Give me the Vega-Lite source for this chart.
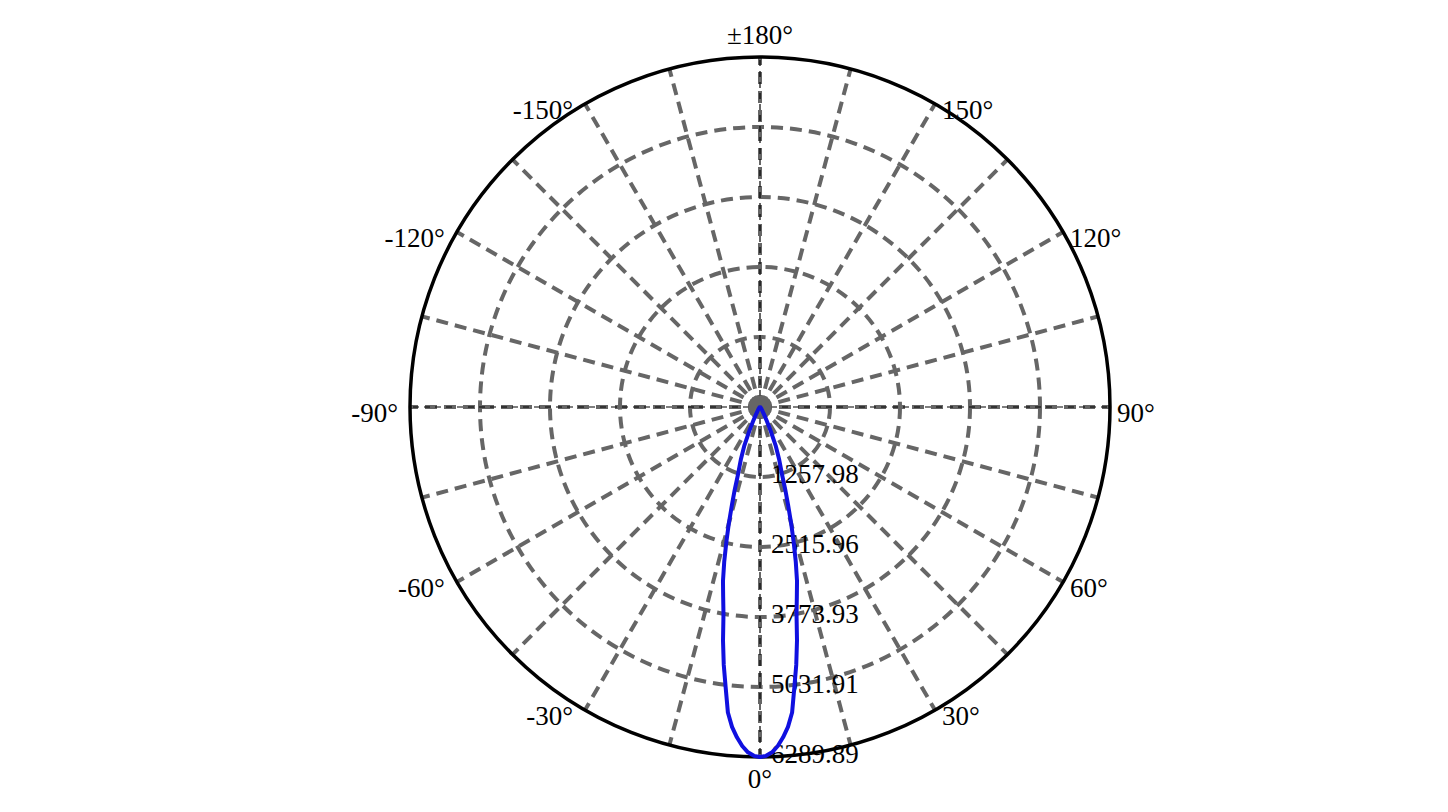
{
  "$schema": "https://vega.github.io/schema/vega-lite/v6.json",
  "width": 700,
  "height": 700,
  "autosize": {"type": "none"},
  "padding": {"left": 410, "top": 57, "right": 338, "bottom": 55},
  "background": "white",
  "config": {"view": {"stroke": null}, "text": {"font": "Liberation Serif", "fontSize": 27, "color": "black"}},
  "datasets": {
    "spokes": [
      {"angle": -165}, {"angle": -150}, {"angle": -135}, {"angle": -120}, {"angle": -105}, {"angle": -90},
      {"angle": -75}, {"angle": -60}, {"angle": -45}, {"angle": -30}, {"angle": -15}, {"angle": 0},
      {"angle": 15}, {"angle": 30}, {"angle": 45}, {"angle": 60}, {"angle": 75}, {"angle": 90},
      {"angle": 105}, {"angle": 120}, {"angle": 135}, {"angle": 150}, {"angle": 165}, {"angle": 180}
    ],
    "rings": [
      {"r": 1257.98, "label": "1257.98"},
      {"r": 2515.96, "label": "2515.96"},
      {"r": 3773.93, "label": "3773.93"},
      {"r": 5031.91, "label": "5031.91"},
      {"r": 6289.89, "label": "6289.89"}
    ],
    "angleLabels": [
      {"angle": 0, "label": "0°"},
      {"angle": 30, "label": "30°"},
      {"angle": 60, "label": "60°"},
      {"angle": 90, "label": "90°"},
      {"angle": 120, "label": "120°"},
      {"angle": 150, "label": "150°"},
      {"angle": 180, "label": "±180°"},
      {"angle": -150, "label": "-150°"},
      {"angle": -120, "label": "-120°"},
      {"angle": -90, "label": "-90°"},
      {"angle": -60, "label": "-60°"},
      {"angle": -30, "label": "-30°"}
    ],
    "curve": [
      {"angle": -90, "cd": 0}, {"angle": -80, "cd": 2}, {"angle": -70, "cd": 4}, {"angle": -60, "cd": 8},
      {"angle": -50, "cd": 15}, {"angle": -40, "cd": 30}, {"angle": -35, "cd": 55}, {"angle": -30, "cd": 110},
      {"angle": -28, "cd": 170}, {"angle": -26, "cd": 280}, {"angle": -24, "cd": 470}, {"angle": -22, "cd": 760},
      {"angle": -20, "cd": 1010}, {"angle": -18, "cd": 1290}, {"angle": -17, "cd": 1550}, {"angle": -16, "cd": 1830},
      {"angle": -15, "cd": 2160}, {"angle": -14, "cd": 2500}, {"angle": -13, "cd": 2860}, {"angle": -12, "cd": 3200},
      {"angle": -11, "cd": 3470}, {"angle": -10, "cd": 3780}, {"angle": -9, "cd": 4250}, {"angle": -8, "cd": 4680},
      {"angle": -7, "cd": 5070}, {"angle": -6, "cd": 5520}, {"angle": -5, "cd": 5770}, {"angle": -4, "cd": 5950},
      {"angle": -3, "cd": 6100}, {"angle": -2, "cd": 6210}, {"angle": -1, "cd": 6270}, {"angle": 0, "cd": 6289.89},
      {"angle": 1, "cd": 6270}, {"angle": 2, "cd": 6210}, {"angle": 3, "cd": 6100}, {"angle": 4, "cd": 5950},
      {"angle": 5, "cd": 5770}, {"angle": 6, "cd": 5520}, {"angle": 7, "cd": 5070}, {"angle": 8, "cd": 4680},
      {"angle": 9, "cd": 4250}, {"angle": 10, "cd": 3780}, {"angle": 11, "cd": 3470}, {"angle": 12, "cd": 3200},
      {"angle": 13, "cd": 2860}, {"angle": 14, "cd": 2500}, {"angle": 15, "cd": 2160}, {"angle": 16, "cd": 1830},
      {"angle": 17, "cd": 1550}, {"angle": 18, "cd": 1290}, {"angle": 20, "cd": 1010}, {"angle": 22, "cd": 760},
      {"angle": 24, "cd": 470}, {"angle": 26, "cd": 280}, {"angle": 28, "cd": 170}, {"angle": 30, "cd": 110},
      {"angle": 35, "cd": 55}, {"angle": 40, "cd": 30}, {"angle": 50, "cd": 15}, {"angle": 60, "cd": 8},
      {"angle": 70, "cd": 4}, {"angle": 80, "cd": 2}, {"angle": 90, "cd": 0}
    ]
  },
  "layer": [
    {
      "data": {"name": "spokes"},
      "transform": [
        {"calculate": "6289.89 * sin(datum.angle * PI / 180)", "as": "px"},
        {"calculate": "-6289.89 * cos(datum.angle * PI / 180)", "as": "py"},
        {"calculate": "0", "as": "o"}
      ],
      "mark": {"type": "rule", "color": "#666666", "strokeWidth": 4, "strokeDash": [12, 7]},
      "encoding": {
        "x": {"field": "o", "type": "quantitative", "scale": {"domain": [-6289.89, 6289.89], "nice": false, "zero": false}, "axis": null},
        "y": {"field": "o", "type": "quantitative", "scale": {"domain": [-6289.89, 6289.89], "nice": false, "zero": false}, "axis": null},
        "x2": {"field": "px"},
        "y2": {"field": "py"}
      }
    },
    {
      "data": {"name": "rings"},
      "transform": [{"filter": "datum.r < 6000"}, {"calculate": "0", "as": "o"}],
      "mark": {"type": "point", "shape": "circle", "filled": false, "opacity": 1, "color": "#666666", "strokeWidth": 4, "strokeDash": [12, 7]},
      "encoding": {
        "x": {"field": "o", "type": "quantitative"},
        "y": {"field": "o", "type": "quantitative"},
        "size": {"field": "r", "type": "quantitative", "legend": null, "scale": {"type": "pow", "exponent": 2, "domain": [0, 6289.89], "range": [0, 490000], "zero": true}}
      }
    },
    {
      "data": {"name": "spokes"},
      "transform": [
        {"filter": "datum.angle % 90 == 0"},
        {"calculate": "6289.89 * sin(datum.angle * PI / 180)", "as": "px"},
        {"calculate": "-6289.89 * cos(datum.angle * PI / 180)", "as": "py"},
        {"calculate": "0", "as": "o"}
      ],
      "mark": {"type": "rule", "color": "black", "strokeWidth": 1.2, "strokeDash": [6, 5]},
      "encoding": {
        "x": {"field": "o", "type": "quantitative"},
        "y": {"field": "o", "type": "quantitative"},
        "x2": {"field": "px"},
        "y2": {"field": "py"}
      }
    },
    {
      "data": {"name": "rings"},
      "transform": [{"filter": "datum.r > 6000"}, {"calculate": "0", "as": "o"}],
      "mark": {"type": "point", "shape": "circle", "filled": false, "opacity": 1, "color": "black", "strokeWidth": 3.5},
      "encoding": {
        "x": {"field": "o", "type": "quantitative"},
        "y": {"field": "o", "type": "quantitative"},
        "size": {"field": "r", "type": "quantitative", "legend": null}
      }
    },
    {
      "data": {"values": [{"c": 0}]},
      "mark": {"type": "point", "shape": "circle", "filled": true, "color": "#666666", "opacity": 1},
      "encoding": {
        "x": {"field": "c", "type": "quantitative"},
        "y": {"field": "c", "type": "quantitative"},
        "size": {"value": 560}
      }
    },
    {
      "data": {"name": "rings"},
      "transform": [{"calculate": "-datum.r", "as": "ry"}, {"calculate": "0", "as": "o"}],
      "mark": {"type": "text", "align": "left", "baseline": "middle", "dx": 11, "dy": -2},
      "encoding": {
        "x": {"field": "o", "type": "quantitative"},
        "y": {"field": "ry", "type": "quantitative"},
        "text": {"field": "label"}
      }
    },
    {
      "data": {"name": "angleLabels"},
      "transform": [
        {"filter": "datum.angle > 0 && datum.angle < 180"},
        {"calculate": "6289.89 * sin(datum.angle * PI / 180)", "as": "lx"},
        {"calculate": "-6289.89 * cos(datum.angle * PI / 180)", "as": "ly"}
      ],
      "mark": {"type": "text", "align": "left", "baseline": "middle", "dx": 7, "dy": 7},
      "encoding": {
        "x": {"field": "lx", "type": "quantitative"},
        "y": {"field": "ly", "type": "quantitative"},
        "text": {"field": "label"}
      }
    },
    {
      "data": {"name": "angleLabels"},
      "transform": [
        {"filter": "datum.angle < 0"},
        {"calculate": "6289.89 * sin(datum.angle * PI / 180)", "as": "lx"},
        {"calculate": "-6289.89 * cos(datum.angle * PI / 180)", "as": "ly"}
      ],
      "mark": {"type": "text", "align": "right", "baseline": "middle", "dx": -12, "dy": 7},
      "encoding": {
        "x": {"field": "lx", "type": "quantitative"},
        "y": {"field": "ly", "type": "quantitative"},
        "text": {"field": "label"}
      }
    },
    {
      "data": {"name": "angleLabels"},
      "transform": [
        {"filter": "datum.angle == 0 || datum.angle == 180"},
        {"calculate": "6685 * sin(datum.angle * PI / 180)", "as": "lx"},
        {"calculate": "-6685 * cos(datum.angle * PI / 180)", "as": "ly"}
      ],
      "mark": {"type": "text", "align": "center", "baseline": "middle", "dx": 0, "dy": 1},
      "encoding": {
        "x": {"field": "lx", "type": "quantitative"},
        "y": {"field": "ly", "type": "quantitative"},
        "text": {"field": "label"}
      }
    },
    {
      "data": {"name": "curve"},
      "transform": [
        {"calculate": "datum.cd * sin(datum.angle * PI / 180)", "as": "cx"},
        {"calculate": "-datum.cd * cos(datum.angle * PI / 180)", "as": "cy"}
      ],
      "mark": {"type": "line", "color": "#1010e0", "strokeWidth": 4, "strokeJoin": "round"},
      "encoding": {
        "x": {"field": "cx", "type": "quantitative"},
        "y": {"field": "cy", "type": "quantitative"},
        "order": {"field": "angle", "type": "quantitative"}
      }
    }
  ]
}
